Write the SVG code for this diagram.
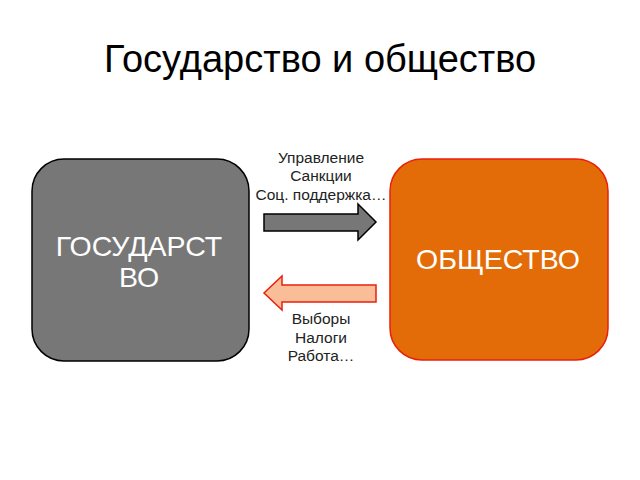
<svg xmlns="http://www.w3.org/2000/svg" width="640" height="480" viewBox="0 0 640 480">
<style>
.title{font-family:"Liberation Sans",Arial,sans-serif;font-size:38px;fill:#000;text-anchor:middle}
.box{font-family:"Liberation Sans",Arial,sans-serif;font-size:28.5px;fill:#fff;text-anchor:middle}
.lbl{font-family:"Liberation Sans",Arial,sans-serif;font-size:15.5px;fill:#222;text-anchor:middle}
</style>
<rect width="640" height="480" fill="#fff"/>
<text class="title" x="320" y="72">Государство и общество</text>
<g id="gosudarstvo">
<rect x="32" y="159" width="217" height="202" rx="32" fill="#777777" stroke="#000" stroke-width="1.5"/>
<text class="box" x="139" y="256">ГОСУДАРСТ</text>
<text class="box" x="139" y="287">ВО</text>
</g>
<g id="obshchestvo">
<rect x="390" y="159" width="218" height="201" rx="32" fill="#E36C09" stroke="#E8200C" stroke-width="1.5"/>
<text class="box" x="498" y="269">ОБЩЕСТВО</text>
</g>
<g id="connectors">
<polygon points="264,214 358,214 358,204 376,222 358,240 358,231 264,231" fill="#777777" stroke="#000" stroke-width="1.5"/>
<polygon points="376,285 282,285 282,276 264,293 282,310 282,302 376,302" fill="#F9BE98" stroke="#E8200C" stroke-width="1.5"/>
</g>
<g id="labels">
<text class="lbl" x="321" y="163">Управление</text>
<text class="lbl" x="321" y="181">Санкции</text>
<text class="lbl" x="321" y="200">Соц. поддержка…</text>
<text class="lbl" x="321" y="324">Выборы</text>
<text class="lbl" x="321" y="343">Налоги</text>
<text class="lbl" x="321" y="361">Работа…</text>
</g>
</svg>
